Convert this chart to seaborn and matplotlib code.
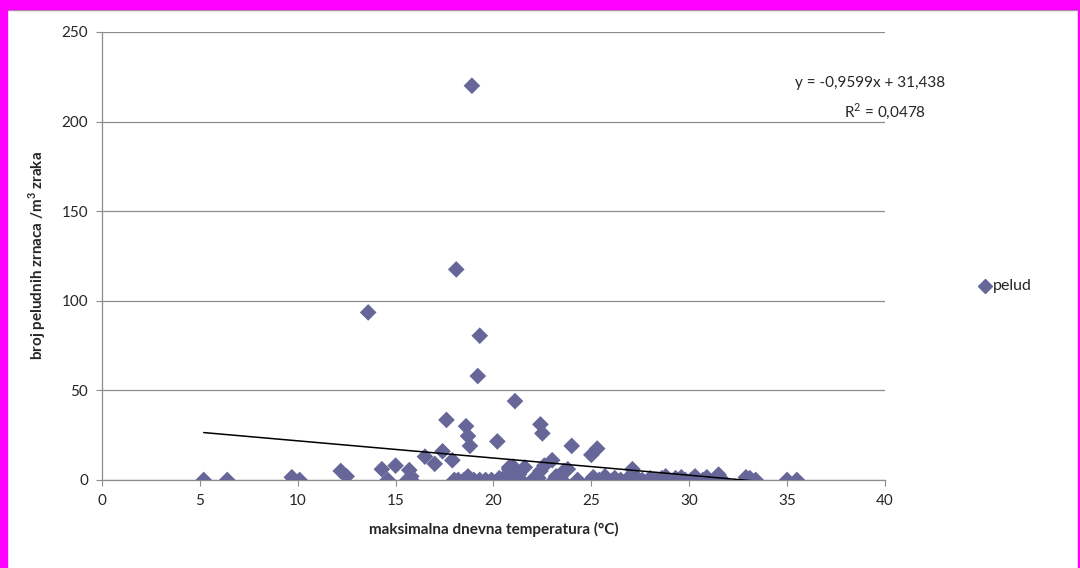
import matplotlib
matplotlib.use("Agg")
import matplotlib.pyplot as plt
import seaborn as sns
import pandas as pd
import numpy as np
from matplotlib.patches import Rectangle

# ---- data ----
temp = [5.2, 6.4, 10.1, 14.6, 15.6, 15.8, 18.0, 18.2, 18.5, 19.0, 19.3, 19.6, 19.9, 20.3,
        20.7, 21.0, 21.3, 22.0, 22.2, 23.1, 23.5, 24.3, 25.0, 25.4, 25.8, 26.1, 26.5, 26.8,
        27.1, 27.6, 28.0, 28.2, 28.4, 28.6, 28.9, 29.4, 29.8, 30.1, 30.4, 30.7, 31.0, 31.3,
        31.7, 32.9, 33.4, 35.0, 35.5,
        9.7, 12.2, 12.5, 13.6, 14.3, 15.0, 15.7, 15.8, 16.5, 17.0, 17.4, 17.6, 17.9, 18.1, 18.6,
        18.7, 18.7, 18.8, 18.9, 19.2, 19.3, 20.2, 20.6, 20.8, 21.0, 21.1, 21.3, 21.6, 22.1,
        22.4, 22.5, 22.4, 22.6, 23.0, 23.2, 23.6, 23.8, 24.0, 25.0, 25.3, 25.1, 25.7, 26.2,
        27.1, 27.3, 28.8, 29.6, 30.3, 30.9, 31.5, 32.9, 33.1,
        20.3, 20.8, 21.3, 22.3, 23.4, 26.9, 28.0, 28.6, 29.3]
pollen = [0, 0, 0, 0, 0, 0, 0, 0, 0, 0, 0, 0, 0, 0,
          0, 0, 0, 0, 0, 0, 0, 0, 0, 0, 0, 0, 0, 0,
          0, 0, 0, 0, 0, 0, 0, 0, 0, 0, 0, 0, 0, 0,
          0, 0, 0, 0, 0,
          1.5, 5, 2, 93.5, 6, 8, 5.5, 2, 13, 9, 16, 33.5, 11, 117.5, 30,
          2, 24.5, 19, 220, 58, 80.5, 21.5, 2, 6, 7.5, 44, 3, 7, 1,
          31, 26, 5, 8, 11, 2, 5, 6, 19, 14, 17.5, 1.5, 2, 1,
          6, 1.5, 2, 1.5, 2, 1.5, 3, 1.5, 1,
          1, 7, 1, 1, 1, 1, 1, 1, 1]
slope, intercept, r2 = -0.9599, 31.438, 0.0478
series_name = "pelud"
xlabel = "maksimalna dnevna temperatura (°C)"
ylabel = "broj peludnih zrnaca /m$^{\\mathregular{3}}$ zraka"
xticks = [0, 5, 10, 15, 20, 25, 30, 35, 40]
yticks = [0, 50, 100, 150, 200, 250]

df = pd.DataFrame({"temp": temp, "pollen": pollen, "series": series_name})

sns.set_style("white")
plt.rcParams["font.family"] = ["Lato", "DejaVu Sans"]

fig = plt.figure(figsize=(10.8, 5.68), dpi=100)
ax = fig.add_axes([0.0944, 0.155, 0.8194 - 0.0944, 0.9437 - 0.155])

marker_color = "#666699"
sns.scatterplot(data=df, x="temp", y="pollen", hue="series", palette=[marker_color],
                marker="D", s=72, linewidth=0, ax=ax, legend=False, zorder=3)

# trendline
xs = np.array([min(temp), max(temp)])
ax.plot(xs, slope * xs + intercept, color="black", lw=1.1, zorder=4, clip_on=True)

ax.set_xlim(0, 40)
ax.set_ylim(0, 250)
ax.set_xticks(xticks)
ax.set_yticks(yticks)
ax.tick_params(axis="both", labelsize=11, length=4, width=0.8, color="#8C8C8C",
               direction="out", bottom=True, left=True, pad=6)
ax.yaxis.grid(True, color="#8C8C8C", lw=0.9)
ax.set_axisbelow(True)
for s in ["top", "right"]:
    ax.spines[s].set_visible(False)
for s in ["left", "bottom"]:
    ax.spines[s].set_color("#8C8C8C")
    ax.spines[s].set_linewidth(0.9)

ax.set_xlabel(xlabel, fontsize=11, fontweight="bold", labelpad=10)
ax.set_ylabel(ylabel, fontsize=11, fontweight="bold", labelpad=10)

# equation text
fig.text(0.806, 0.853, "y = -0,9599x + 31,438", fontsize=11, ha="center", va="center")
fig.text(0.819, 0.805, "R$^{\\mathregular{2}}$ = 0,0478", fontsize=11, ha="center", va="center")

# legend
fig.lines.append(plt.Line2D([0.912], [0.497], marker="D", color=marker_color, markersize=7,
                            linestyle="none", transform=fig.transFigure))
fig.text(0.919, 0.497, series_name, fontsize=11.5, ha="left", va="center")

# frame decoration (magenta border)
fig.patches.append(Rectangle((0, 1 - 9 / 568), 1, 9 / 568, transform=fig.transFigure,
                             color="#FF00FF", zorder=10))
fig.patches.append(Rectangle((0, 0), 7 / 1080, 1, transform=fig.transFigure,
                             color="#FF00FF", zorder=10))
fig.patches.append(Rectangle((1 - 2 / 1080, 0), 2 / 1080, 1, transform=fig.transFigure,
                             color="#FF00FF", zorder=10))
fig.lines.append(plt.Line2D([7 / 1080, 1 - 2 / 1080], [1 - 10 / 568, 1 - 10 / 568],
                            color="#A0A0A0", lw=1, transform=fig.transFigure))

fig.savefig("out.png", dpi=100)
